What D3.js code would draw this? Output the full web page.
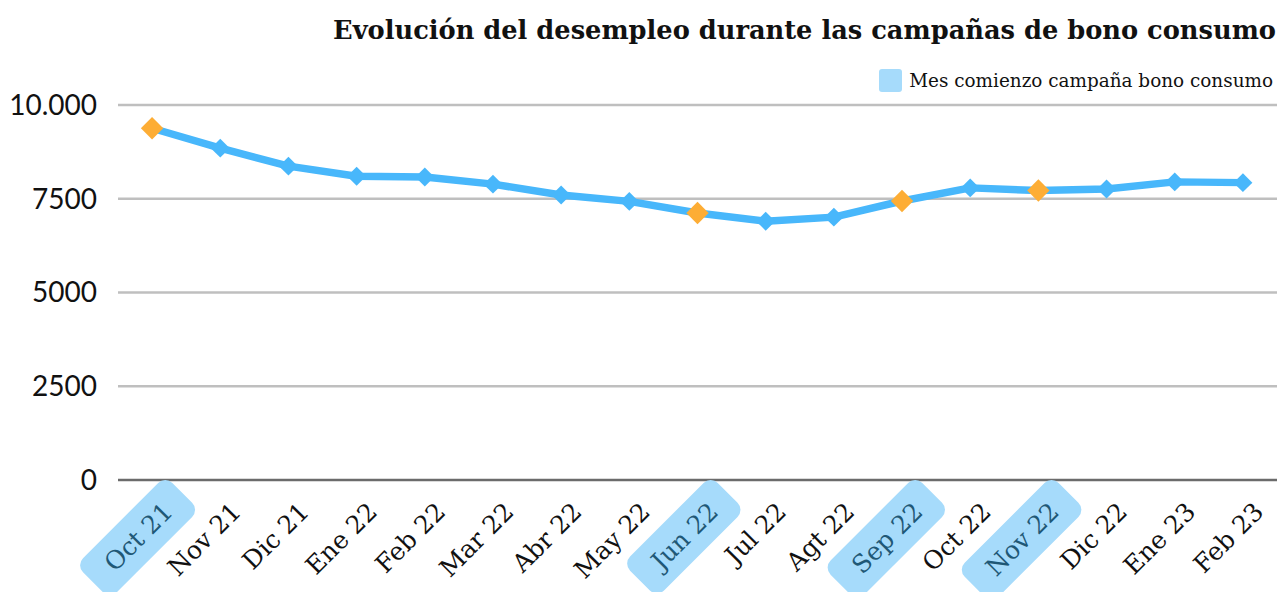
<!DOCTYPE html>
<html>
<head>
<meta charset="utf-8">
<script src="https://cdn.jsdelivr.net/npm/d3@7"></script>
<style>
  body { margin: 0; background: #fff; }
  #chart { width: 1287px; height: 592px; }
</style>
</head>
<body>
<div id="chart"></div>
<script>
const months = ["Oct 21", "Nov 21", "Dic 21", "Ene 22", "Feb 22", "Mar 22", "Abr 22", "May 22",
  "Jun 22", "Jul 22", "Agt 22", "Sep 22", "Oct 22", "Nov 22", "Dic 22", "Ene 23", "Feb 23"];
const unemployed = [9380, 8850, 8370, 8100, 8080, 7890, 7600, 7430,
  7120, 6900, 7010, 7440, 7790, 7720, 7760, 7950, 7930];
const campaignStarts = ["Oct 21", "Jun 22", "Sep 22", "Nov 22"];
const yTicks = [0, 2500, 5000, 7500, 10000];
const yTickLabels = ["0", "2500", "5000", "7500", "10.000"];

const width = 1287, height = 592;
const margin = { top: 105, right: 10, bottom: 112, left: 118 };

const svg = d3.select("#chart")
  .append("svg")
  .attr("width", width)
  .attr("height", height);

const x = d3.scalePoint()
  .domain(months)
  .range([margin.left, width - margin.right])
  .padding(0.5);

const y = d3.scaleLinear()
  .domain([0, 10000])
  .range([height - margin.bottom, margin.top]);

// title
svg.append("text")
  .attr("x", 1276)
  .attr("y", 39)
  .attr("text-anchor", "end")
  .style("font-family", "DejaVu Serif")
  .style("font-weight", "bold")
  .style("font-size", "25.7px")
  .attr("fill", "#111")
  .text("Evolución del desempleo durante las campañas de bono consumo");

// legend
svg.append("rect")
  .attr("x", 879).attr("y", 69)
  .attr("width", 23).attr("height", 23)
  .attr("rx", 3)
  .attr("fill", "#a6dbfb");
svg.append("text")
  .attr("x", 1273).attr("y", 87)
  .attr("text-anchor", "end")
  .style("font-family", "DejaVu Serif")
  .style("font-size", "18.4px")
  .attr("fill", "#111")
  .text("Mes comienzo campaña bono consumo");

// gridlines
svg.append("g")
  .selectAll("line")
  .data(yTicks.filter(d => d > 0))
  .join("line")
  .attr("x1", margin.left).attr("x2", width - margin.right)
  .attr("y1", d => y(d)).attr("y2", d => y(d))
  .attr("stroke", "#bfbfbf")
  .attr("stroke-width", 2.5);

svg.append("line")
  .attr("x1", margin.left).attr("x2", width - margin.right)
  .attr("y1", y(0)).attr("y2", y(0))
  .attr("stroke", "#6b6b6b")
  .attr("stroke-width", 2.5);

// y labels
svg.append("g")
  .selectAll("text")
  .data(yTicks)
  .join("text")
  .attr("x", 97)
  .attr("y", d => y(d))
  .attr("dy", "0.35em")
  .attr("text-anchor", "end")
  .style("font-family", "Lato")
  .style("font-size", "28px")
  .attr("fill", "#111")
  .text((d, i) => yTickLabels[i]);

// x labels with campaign highlights
const xLab = svg.append("g")
  .selectAll("g")
  .data(months)
  .join("g")
  .attr("transform", d => `translate(${x(d) + 16},${height - margin.bottom + 27}) rotate(-45)`);

xLab.each(function(d) {
  const g = d3.select(this);
  const isCamp = campaignStarts.includes(d);
  const t = g.append("text")
    .attr("x", 0).attr("y", 0)
    .attr("dy", "0.35em")
    .attr("text-anchor", "end")
    .style("font-family", "DejaVu Serif")
    .style("font-size", "25px")
    .attr("fill", isCamp ? "#1f5876" : "#111")
    .text(d);
  if (isCamp) {
    const w = t.node().getComputedTextLength();
    g.insert("rect", "text")
      .attr("x", -w - 22).attr("y", -24)
      .attr("width", w + 42).attr("height", 48)
      .attr("rx", 10)
      .attr("fill", "#a6dbfb");
  }
});

// line
const line = d3.line()
  .x((d, i) => x(months[i]))
  .y(d => y(d));

svg.append("path")
  .datum(unemployed)
  .attr("d", line)
  .attr("fill", "none")
  .attr("stroke", "#48b7fb")
  .attr("stroke-width", 7.5)
  .attr("stroke-linejoin", "round");

// markers
const diamond = d3.symbol().type(d3.symbolSquare);
svg.append("g")
  .selectAll("path")
  .data(unemployed)
  .join("path")
  .attr("transform", (d, i) => `translate(${x(months[i])},${y(d)}) rotate(45)`)
  .attr("d", (d, i) => diamond.size(campaignStarts.includes(months[i]) ? 250 : 180)())
  .attr("fill", (d, i) => campaignStarts.includes(months[i]) ? "#fdad35" : "#48b7fb");
</script>
</body>
</html>
